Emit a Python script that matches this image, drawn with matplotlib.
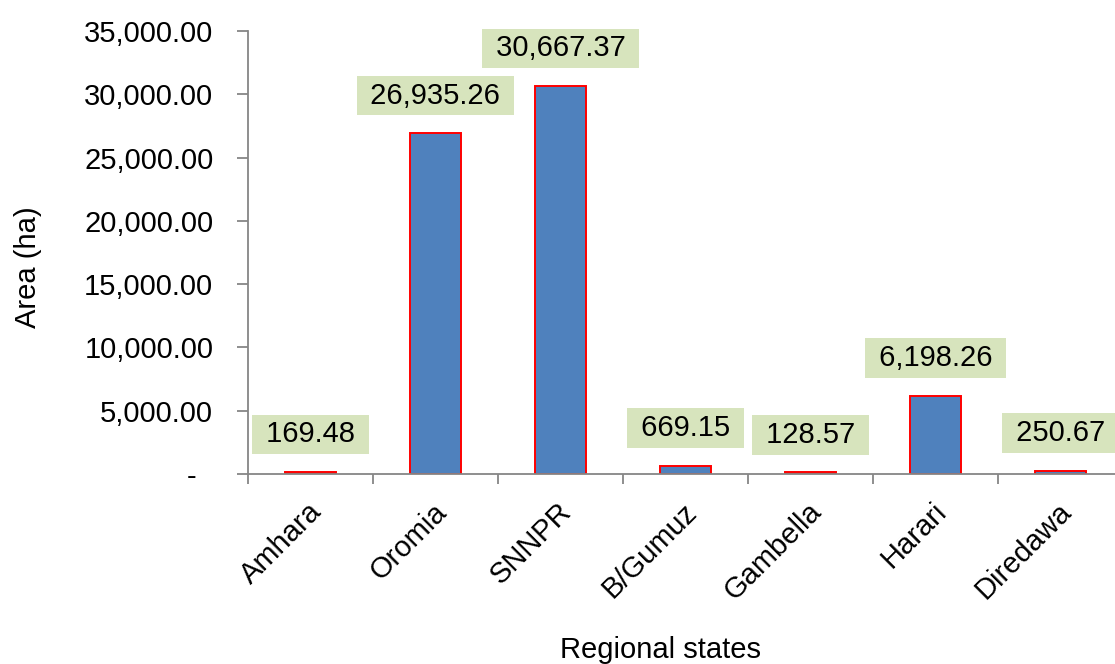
import numpy as np
import matplotlib.pyplot as plt
import matplotlib.transforms as mtransforms
from matplotlib.ticker import FuncFormatter, FixedLocator

plt.rcParams['font.family'] = ['Liberation Sans', 'DejaVu Sans']

# area by regional state
regions = ['Amhara', 'Oromia', 'SNNPR', 'B/Gumuz', 'Gambella', 'Harari', 'Diredawa']
area_ha = [169.48, 26935.26, 30667.37, 669.15, 128.57, 6198.26, 250.67]

fs = 21
grey = '#868686'

fig = plt.figure(figsize=(11.15, 6.64), dpi=100)
ax = fig.add_axes([248 / 1115, 1 - 474 / 664, 875 / 1115, 443 / 664])

x = np.arange(len(regions))
ax.bar(x, area_ha, width=0.41, color='#4F81BD', edgecolor='#FF0000', linewidth=1.4, zorder=2)

# value labels with green boxes above each bar
for xi, v in zip(x, area_ha):
    ax.annotate(' {:,.2f} '.format(v), (xi, v), xytext=(0, 27), textcoords='offset points',
                ha='center', va='center', fontsize=fs, color='black',
                bbox=dict(boxstyle='square,pad=0.2', fc='#D7E4BD', ec='none'),
                annotation_clip=False, zorder=3)

ax.set_xlim(-0.5, len(regions) - 0.5)
ax.set_ylim(0, 35000)
ax.set_yticks(np.arange(0, 35001, 5000))
ax.yaxis.set_major_formatter(FuncFormatter(lambda v, p: '-  ' if v == 0 else '{:,.2f}'.format(v)))
ax.tick_params(axis='y', length=8, width=1.3, color=grey, pad=17, labelsize=fs)

ax.set_xticks(x)
ax.set_xticklabels(regions, rotation=45, ha='right', va='center', rotation_mode='anchor')
ax.xaxis.set_minor_locator(FixedLocator(np.arange(-0.5, len(regions), 1.0)))
ax.tick_params(axis='x', which='major', length=0, pad=24, labelsize=fs)
ax.tick_params(axis='x', which='minor', length=7, width=1.3, color=grey)
# nudge rotated category labels a little to the right
shift = mtransforms.ScaledTranslation(5 / 72, 0, fig.dpi_scale_trans)
for lbl in ax.get_xticklabels():
    lbl.set_transform(lbl.get_transform() + shift)

for s in ['top', 'right']:
    ax.spines[s].set_visible(False)
for s in ['left', 'bottom']:
    ax.spines[s].set_color(grey)
    ax.spines[s].set_linewidth(1.3)

fig.text(28 / 1115, 1 - 267 / 664, 'Area (ha)', rotation=90, ha='center', va='center', fontsize=fs)
fig.text(661 / 1115, 1 - 650 / 664, 'Regional states', ha='center', va='center', fontsize=fs)

fig.savefig('out.png', dpi=100)
